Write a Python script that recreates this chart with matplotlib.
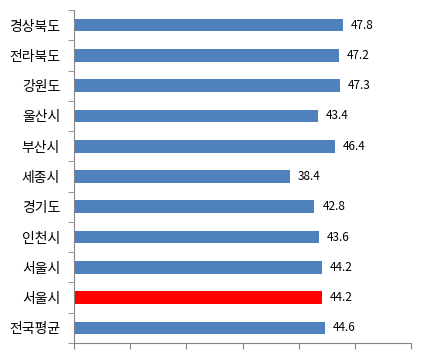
import matplotlib.pyplot as plt
import numpy as np

plt.rcParams['font.family'] = ['Noto Sans CJK KR', 'DejaVu Sans']

regions = ['경상북도', '전라북도', '강원도', '울산시', '부산시', '세종시',
           '경기도', '인천시', '서울시', '서울시', '전국평균']
values = [47.8, 47.2, 47.3, 43.4, 46.4, 38.4, 42.8, 43.6, 44.2, 44.2, 44.6]
highlight = 9  # second 서울시 drawn in red

colors = ['#4F81BD'] * len(values)
colors[highlight] = '#FF0000'

fig = plt.figure(figsize=(4.31, 3.56), dpi=100)
ax = fig.add_axes([0.1717, 0.0365, 0.782, 0.9354])

ypos = np.arange(len(values))[::-1]
ax.barh(ypos, values, height=0.42, color=colors)

for y, v in zip(ypos, values):
    ax.text(v + 1.4, y, f'{v:.1f}', va='center', ha='left', fontsize=8.5)

ax.set_xlim(0, 60)
ax.set_ylim(-0.5, len(values) - 0.5)
ax.set_xticks(np.arange(0, 61, 10))
ax.set_xticklabels([])
ax.set_yticks(ypos)
ax.set_yticklabels(regions, fontsize=10)
ax.set_yticks(np.arange(-0.5, len(values), 1), minor=True)

ax.tick_params(axis='y', which='major', length=0, pad=10)
ax.tick_params(axis='y', which='minor', length=4, color='#868686')
ax.tick_params(axis='x', length=4, color='#868686')

for side in ['top', 'right']:
    ax.spines[side].set_visible(False)
for side in ['left', 'bottom']:
    ax.spines[side].set_color('#868686')

plt.savefig('out.png', dpi=100)
